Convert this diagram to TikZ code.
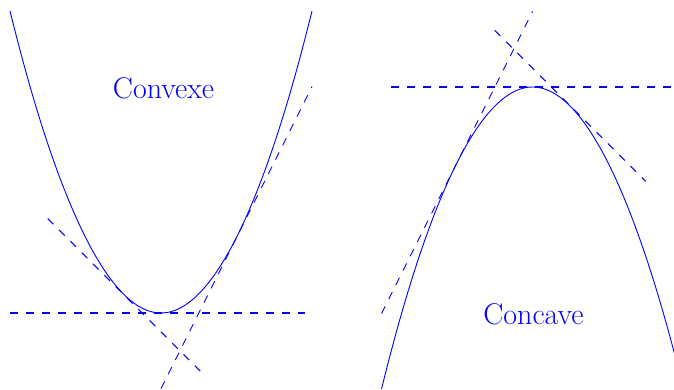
\documentclass[tikz,border=0pt]{standalone}
\begin{document}
\begin{tikzpicture}[x=1pt,y=-1pt,
  curve/.style={draw=blue,line width=0.9pt},
  tangent/.style={draw=blue,line width=0.9pt,dash pattern=on 8pt off 8pt},
  flat/.style={tangent,line width=1.1pt},
  lab/.style={text=blue,anchor=base,font=\fontsize{30}{33}\selectfont,inner sep=0pt}]
\useasboundingbox (0,0) rectangle (674,389);
\clip (0,0) rectangle (674,389);
% left: convex
\begin{scope}[shift={(161,313)},x=75.5pt,y=75.5pt]
  \draw[curve] (-2,4) parabola bend (0,0) (2,4);
  \draw[flat] (-2,0) -- (1.91,0);
  \draw[tangent] (-1.5,1.25) -- (0.52,-0.77);
  \draw[tangent] (0,-1) -- (2,3);
\end{scope}
% right: concave
\begin{scope}[shift={(532.5,87)},x=75.5pt,y=75.5pt]
  \draw[curve] (-2,-4) parabola bend (0,0) (2,-4);
  \draw[flat] (-1.88,0) -- (1.85,0);
  \draw[tangent] (-2,-3) -- (0,1);
  \draw[tangent] (-0.5,0.75) -- (1.5,-1.25);
\end{scope}
\node[lab] (convexe) at (163.5,98) {Convexe};
\node[lab] (concave) at (533.5,324) {Concave};
\end{tikzpicture}
\end{document}
